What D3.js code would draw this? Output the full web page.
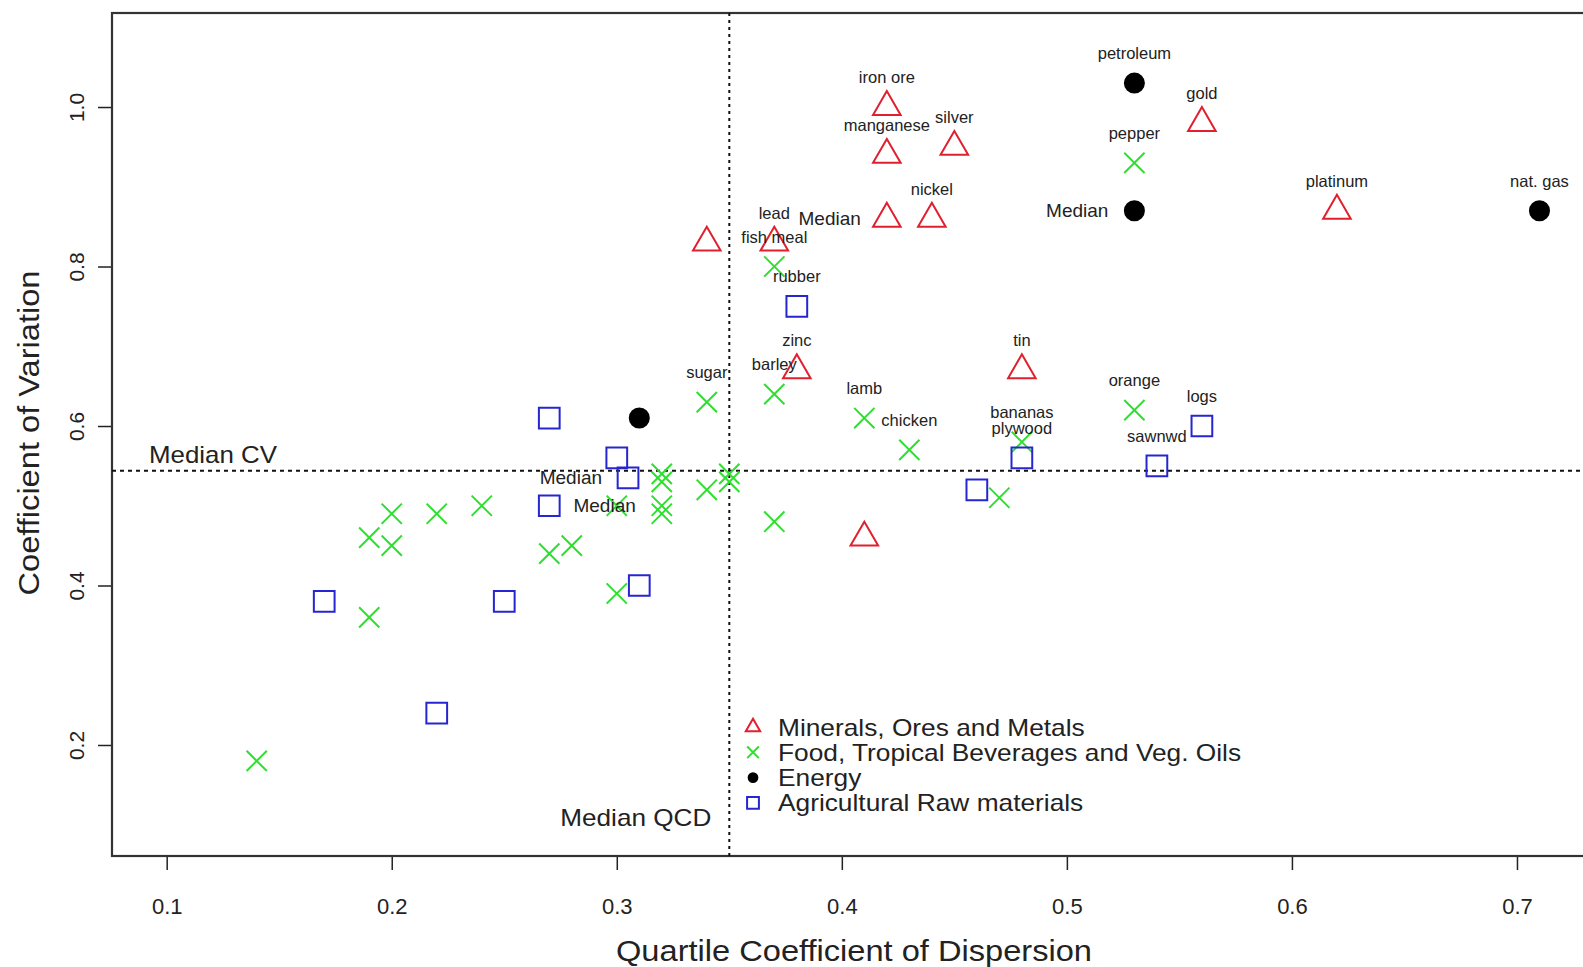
<!DOCTYPE html>
<html lang="en">
<head>
<meta charset="UTF-8">
<title>CV vs QCD</title>
<script src="https://d3js.org/d3.v7.min.js"></script>
<style>
  body { margin: 0; background: #fff; }
  text { font-family: "Liberation Sans", Arial, sans-serif; fill: #222; }
</style>
</head>
<body>
<div id="chart"></div>
<script>
// [name, QCD, CV] - empty name means unlabelled point
var minerals = [
    ["iron ore", 0.42, 1.00], ["manganese", 0.42, 0.94], ["silver", 0.45, 0.95],
    ["Median", 0.42, 0.86], ["nickel", 0.44, 0.86], ["gold", 0.56, 0.98],
    ["platinum", 0.62, 0.87], ["", 0.34, 0.83], ["lead", 0.37, 0.83],
    ["zinc", 0.38, 0.67], ["tin", 0.48, 0.67], ["", 0.41, 0.46]
];
var food = [
    ["pepper", 0.53, 0.93], ["fish meal", 0.37, 0.80], ["sugar", 0.34, 0.63],
    ["barley", 0.37, 0.64], ["lamb", 0.41, 0.61], ["chicken", 0.43, 0.57],
    ["bananas", 0.48, 0.58], ["orange", 0.53, 0.62], ["", 0.47, 0.51],
    ["", 0.37, 0.48], ["", 0.35, 0.54], ["", 0.35, 0.53], ["", 0.34, 0.52],
    ["", 0.32, 0.54], ["", 0.32, 0.53], ["Median", 0.32, 0.50], ["", 0.32, 0.49],
    ["", 0.30, 0.50], ["", 0.27, 0.44], ["", 0.28, 0.45], ["", 0.30, 0.39],
    ["", 0.24, 0.50], ["", 0.22, 0.49], ["", 0.20, 0.49], ["", 0.19, 0.46],
    ["", 0.20, 0.45], ["", 0.19, 0.36], ["", 0.14, 0.18]
];
var energy = [
    ["petroleum", 0.53, 1.03], ["Median", 0.53, 0.87], ["nat. gas", 0.71, 0.87], ["", 0.31, 0.61]
];
var agri = [
    ["rubber", 0.38, 0.75], ["", 0.27, 0.61], ["", 0.30, 0.56], ["Median", 0.305, 0.535],
    ["", 0.27, 0.50], ["", 0.31, 0.40], ["", 0.17, 0.38], ["", 0.25, 0.38],
    ["", 0.22, 0.24], ["plywood", 0.48, 0.56], ["", 0.46, 0.52], ["sawnwd", 0.54, 0.55],
    ["logs", 0.56, 0.60]
];
var xTicks = [0.1, 0.2, 0.3, 0.4, 0.5, 0.6, 0.7];
var yTicks = [0.2, 0.4, 0.6, 0.8, 1.0];
var medianQCD = 0.35;
var medianCV = 0.544;
var legendLabels = ["Minerals, Ores and Metals", "Food, Tropical Beverages and Veg. Oils",
                    "Energy", "Agricultural Raw materials"];

var width = 1583, height = 967;
var plot = {left: 112, top: 13, right: 1652, bottom: 856};

var x = d3.scaleLinear().domain([0.0757, 0.76]).range([plot.left, plot.right]);
var y = d3.scaleLinear().domain([0.0608, 1.1179]).range([plot.bottom, plot.top]);

var groups = [
    {data: minerals, color: "#e0202e", type: d3.symbolTriangle, size: 330, legSize: 90, fill: "none"},
    {data: food, color: "#2ee02e", type: d3.symbolX, size: 270, legSize: 90, fill: "none"},
    {data: energy, color: "#000", type: d3.symbolCircle, size: 285, legSize: 60, fill: "#000"},
    {data: agri, color: "#2626d0", type: d3.symbolSquare, size: 430, legSize: 140, fill: "none"}
];

var svg = d3.select("#chart").append("svg")
    .attr("width", width)
    .attr("height", height);

svg.append("rect").attr("width", width).attr("height", height).attr("fill", "#fff");

// axes
var xAxis = svg.append("g")
    .attr("transform", "translate(0," + plot.bottom + ")")
    .call(d3.axisBottom(x).tickValues(xTicks).tickSize(14).tickPadding(28).tickFormat(d3.format(".1f")));
xAxis.select(".domain").remove();
xAxis.selectAll("line").attr("stroke", "#222").attr("stroke-width", 1.5);
xAxis.selectAll("text").attr("font-size", 22).attr("fill", "#222");

var yAxis = svg.append("g")
    .attr("transform", "translate(" + plot.left + ",0)")
    .call(d3.axisLeft(y).tickValues(yTicks).tickSize(14).tickFormat(d3.format(".1f")));
yAxis.select(".domain").remove();
yAxis.selectAll("line").attr("stroke", "#222").attr("stroke-width", 1.5);
// tick groups are already placed at y(d); just rotate the labels in place
yAxis.selectAll("text")
    .attr("font-size", 21)
    .attr("fill", "#222")
    .attr("text-anchor", "middle")
    .attr("dy", null)
    .attr("dominant-baseline", "central")
    .attr("x", 0).attr("y", 0)
    .attr("transform", "translate(" + (76 - plot.left) + ",0) rotate(-90)");

// plot box
svg.append("rect")
    .attr("x", plot.left).attr("y", plot.top)
    .attr("width", plot.right - plot.left).attr("height", plot.bottom - plot.top)
    .attr("fill", "none").attr("stroke", "#333").attr("stroke-width", 2.2);

// axis titles
svg.append("text")
    .attr("x", 854).attr("y", 951)
    .attr("text-anchor", "middle").attr("dominant-baseline", "central")
    .attr("font-size", 29)
    .attr("textLength", 476).attr("lengthAdjust", "spacingAndGlyphs")
    .text("Quartile Coefficient of Dispersion");

svg.append("text")
    .attr("transform", "translate(29,433) rotate(-90)")
    .attr("text-anchor", "middle").attr("dominant-baseline", "central")
    .attr("font-size", 29)
    .attr("textLength", 325).attr("lengthAdjust", "spacingAndGlyphs")
    .text("Coefficient of Variation");

// median reference lines
svg.append("line")
    .attr("x1", x(medianQCD)).attr("x2", x(medianQCD))
    .attr("y1", plot.top).attr("y2", plot.bottom)
    .attr("stroke", "#111").attr("stroke-width", 2).attr("stroke-dasharray", "3,4");
svg.append("line")
    .attr("x1", plot.left).attr("x2", plot.right)
    .attr("y1", y(medianCV)).attr("y2", y(medianCV))
    .attr("stroke", "#111").attr("stroke-width", 2).attr("stroke-dasharray", "4,4");

svg.append("text")
    .attr("x", 149).attr("y", y(medianCV) - 16)
    .attr("dominant-baseline", "central")
    .attr("font-size", 24).attr("textLength", 128).attr("lengthAdjust", "spacingAndGlyphs")
    .text("Median CV");
svg.append("text")
    .attr("x", x(medianQCD) - 18).attr("y", 817)
    .attr("text-anchor", "end").attr("dominant-baseline", "central")
    .attr("font-size", 24).attr("textLength", 151).attr("lengthAdjust", "spacingAndGlyphs")
    .text("Median QCD");

// points
groups.forEach(function(g) {
    svg.append("g").selectAll("path")
        .data(g.data)
        .enter().append("path")
        .attr("transform", function(d) { return "translate(" + x(d[1]) + "," + y(d[2]) + ")"; })
        .attr("d", d3.symbol().type(g.type).size(g.size))
        .attr("fill", g.fill)
        .attr("stroke", g.color)
        .attr("stroke-width", 2);
});

// labels
groups.forEach(function(g) {
    var labelled = g.data.filter(function(d) { return d[0] !== ""; });
    svg.append("g").selectAll("text")
        .data(labelled)
        .enter().append("text")
        .attr("x", function(d) { return d[0] === "Median" ? x(d[1]) - 26 : x(d[1]); })
        .attr("y", function(d) { return d[0] === "Median" ? y(d[2]) : y(d[2]) - 30; })
        .attr("text-anchor", function(d) { return d[0] === "Median" ? "end" : "middle"; })
        .attr("dominant-baseline", "central")
        .attr("font-size", function(d) { return d[0] === "Median" ? 19 : 16.5; })
        .text(function(d) { return d[0]; });
});

// legend
var legend = svg.append("g").attr("transform", "translate(753,727)");
groups.forEach(function(g, i) {
    legend.append("path")
        .attr("transform", "translate(0," + (i * 25.3) + ")")
        .attr("d", d3.symbol().type(g.type).size(g.legSize))
        .attr("fill", g.fill)
        .attr("stroke", g.color)
        .attr("stroke-width", 2);
    var t = legend.append("text")
        .attr("x", 25).attr("y", i * 25.3)
        .attr("dominant-baseline", "central")
        .attr("font-size", 24)
        .text(legendLabels[i]);
    // reference text runs a little wider than Liberation Sans at this size
    t.attr("textLength", t.node().getComputedTextLength() * 1.095)
     .attr("lengthAdjust", "spacingAndGlyphs");
});
</script>
</body>
</html>
